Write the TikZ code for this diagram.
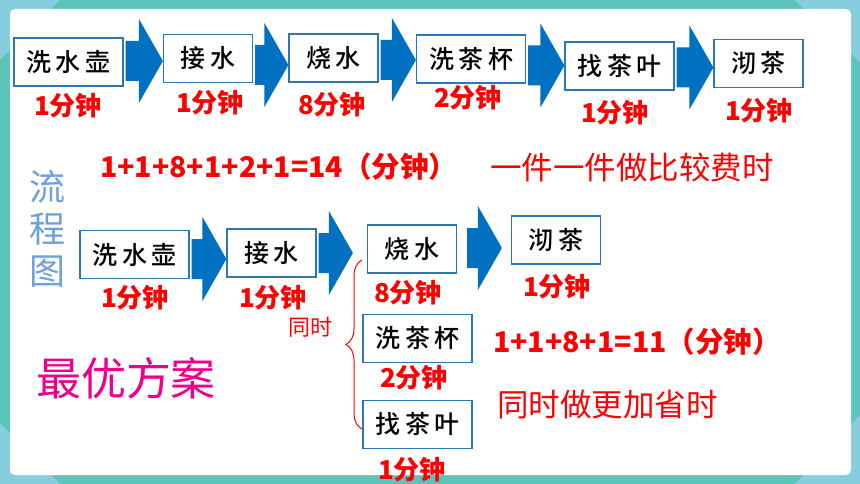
\documentclass[tikz,border=0pt]{standalone}
\usepackage{fontspec}
\setmainfont{Noto Sans CJK SC}
\newfontfamily\boxfont{Noto Sans CJK SC Medium}[LetterSpace=18]
\usetikzlibrary{calc,decorations.pathreplacing}

\definecolor{panelteal}{RGB}{91,197,185}
\definecolor{cornerblue}{RGB}{134,206,223}
\definecolor{boxblue}{RGB}{46,117,182}
\definecolor{arrowblue}{RGB}{0,112,192}
\definecolor{titleblue}{RGB}{110,160,220}

\tikzset{
  task/.style={draw=boxblue, line width=1.2pt, fill=white, minimum height=48pt, inner sep=0pt, font=\boxfont\fontsize{25}{25}\selectfont},
  wide/.style={minimum width=109pt},
  narrow/.style={minimum width=89pt},
  mins/.style={text=red, inner sep=0pt, font=\fontsize{26}{26}\selectfont\bfseries},
  sumline/.style={text=red, inner sep=0pt, anchor=west, font=\fontsize{28.5}{28.5}\selectfont\bfseries},
  remark/.style={text=red, inner sep=0pt, anchor=west, font=\fontsize{31.5}{31.5}\selectfont},
  flow/.style={fill=arrowblue}
}

% block arrow from the first point to the x of the second
\newcommand\flowarrow[2]{%
  \fill[flow] let \p1=(#1), \p2=(#2) in
    (\x1+2pt,\y1+20pt) -- (\x2-24pt,\y1+20pt) -- (\x2-24pt,\y1+42pt) -- (\x2,\y1)
    -- (\x2-24pt,\y1-42pt) -- (\x2-24pt,\y1-20pt) -- (\x1+2pt,\y1-20pt) -- cycle;}

\begin{document}
\begin{tikzpicture}[x=1pt,y=-1pt]
	\useasboundingbox (0,0) rectangle (860,484);

	% Background
	\fill[panelteal] (0,0) rectangle (860,484);
	\fill[cornerblue] (0,0) -- (60,0) -- (0,60) -- cycle;
	\fill[cornerblue] (795,0) -- (860,0) -- (860,62) -- cycle;
	\fill[cornerblue] (0,423) -- (0,484) -- (60,484) -- cycle;
	\fill[cornerblue] (795,484) -- (860,484) -- (860,415) -- cycle;
	\fill[white, rounded corners=5pt] (10,9) rectangle (851,475);

	% One after another
	\node[task, wide] (t1) at (68.5,62) {洗水壶};
	\node[task, narrow] (t2) at (208,58.5) {接水};
	\node[task, narrow] (t3) at (333.5,58) {烧水};
	\node[task, wide] (t4) at (471,59) {洗茶杯};
	\node[task, wide] (t5) at (619.5,66) {找茶叶};
	\node[task, narrow] (t6) at (758.5,63.5) {沏茶};

	\flowarrow{[yshift=1pt]t1.east}{t2.west}
	\flowarrow{[yshift=-6.5pt]t2.east}{t3.west}
	\flowarrow{[yshift=-2pt]t3.east}{t4.west}
	\flowarrow{[yshift=-6.5pt]t4.east}{t5.west}
	\flowarrow{[yshift=-1.5pt]t5.east}{t6.west}

	\node[mins] (m1) at (68,106) {1分钟};
	\node[mins] (m2) at (210,103) {1分钟};
	\node[mins] (m3) at (332,105) {8分钟};
	\node[mins] (m4) at (468,98) {2分钟};
	\node[mins] (m5) at (615,113) {1分钟};
	\node[mins] (m6) at (759,111) {1分钟};

	\node[sumline] (sum1) at (100,167) {1+1+8+1+2+1=14（分钟）};
	\node[remark] (slow) at (490,167) {一件一件做比较费时};

	% Title
	\node[text=titleblue, inner sep=0pt, align=center, font=\fontsize{36}{42}\selectfont] (title) at (47,229) {流\\程\\图};

	% At the same time
	\node[task, wide] (q1) at (134.5,254.5) {洗水壶};
	\node[task, narrow] (q2) at (271.5,253) {接水};
	\node[task, narrow] (q3) at (412,249) {烧水};
	\node[task, narrow] (q4) at (556,240) {沏茶};
	\node[task, wide] (q5) at (417.5,338.5) {洗茶杯};
	\node[task, wide] (q6) at (417.5,424.5) {找茶叶};

	\flowarrow{[yshift=-4.5pt]q1.east}{q2.west}
	\flowarrow{q2.east}{[xshift=-14pt]q3.west}
	\flowarrow{[xshift=8pt,yshift=1pt]q3.east}{[xshift=-9pt]q4.west}

	\draw[red, line width=1pt, decorate, decoration={brace, amplitude=16pt}] (362,429) -- (362,260);
	\node[text=red, inner sep=0pt, font=\fontsize{22}{22}\selectfont] (same) at (310,327) {同时};

	\node[mins] (n1) at (135,298) {1分钟};
	\node[mins] (n2) at (273,298) {1分钟};
	\node[mins] (n3) at (408,293) {8分钟};
	\node[mins] (n4) at (557,287) {1分钟};
	\node[mins] (n5) at (414,378) {2分钟};
	\node[mins] (n6) at (412,470) {1分钟};

	\node[sumline] (sum2) at (493,342) {1+1+8+1=11（分钟）};
	\node[remark] (fast) at (497,405) {同时做更加省时};

	\node[text=magenta, inner sep=0pt, font=\fontsize{45}{45}\selectfont] (best) at (126,378) {最优方案};

\end{tikzpicture}
\end{document}
